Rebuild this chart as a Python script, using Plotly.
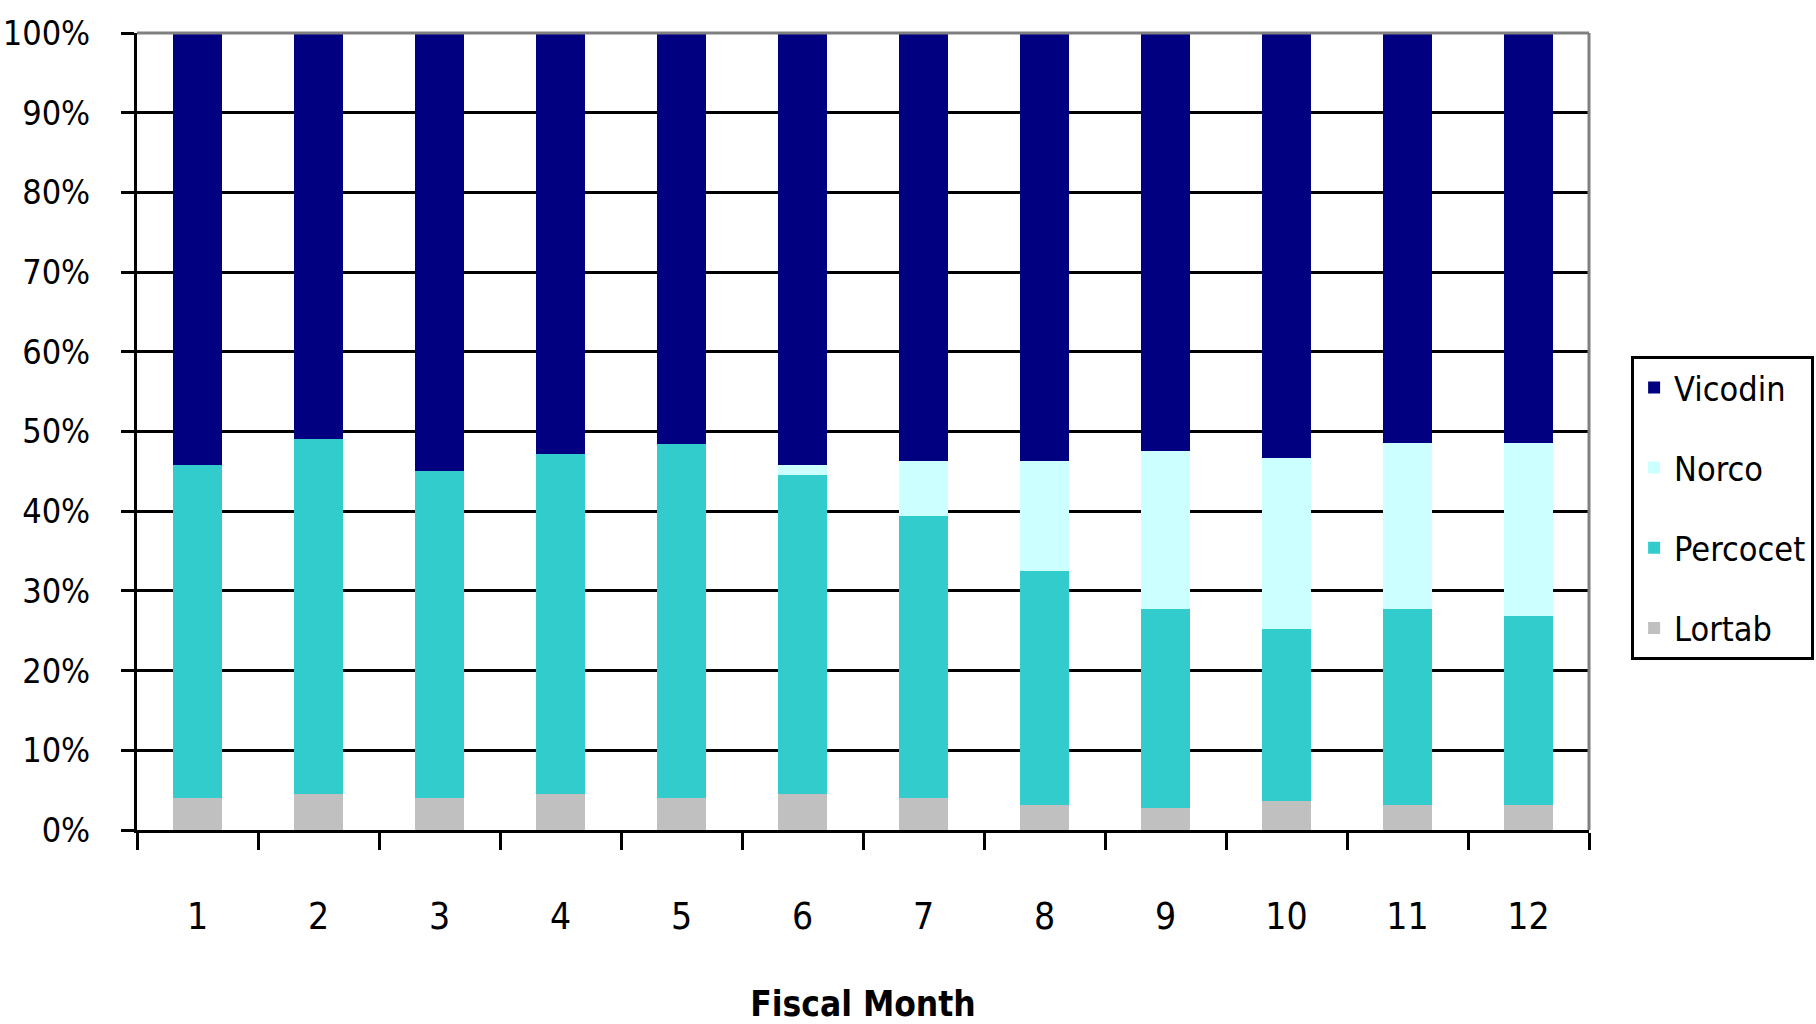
import plotly.graph_objects as go

months = ["1", "2", "3", "4", "5", "6", "7", "8", "9", "10", "11", "12"]
lortab = [4.0, 4.5, 4.0, 4.5, 4.0, 4.5, 4.0, 3.1, 2.8, 3.6, 3.1, 3.1]
percocet = [41.8, 44.5, 41.1, 42.7, 44.4, 40.1, 35.4, 29.4, 24.9, 21.6, 24.6, 23.8]
norco = [0, 0, 0, 0, 0, 1.2, 6.9, 13.8, 19.9, 21.5, 20.8, 21.6]
vicodin = [54.2, 51.0, 54.9, 52.8, 51.6, 54.2, 53.7, 53.7, 52.4, 53.3, 51.5, 51.5]
y_ticks = [0, 10, 20, 30, 40, 50, 60, 70, 80, 90, 100]
y_labels = ["0%", "10%", "20%", "30%", "40%", "50%", "60%", "70%", "80%", "90%", "100%"]

FONT = "Liberation Sans Narrow, Arial Narrow, DejaVu Sans Condensed, Liberation Sans, Arial"

series = [
    ("Lortab", lortab, "#C0C0C0", 4),
    ("Percocet", percocet, "#33CCCC", 3),
    ("Norco", norco, "#CCFFFF", 2),
    ("Vicodin", vicodin, "#000080", 1),
]

fig = go.Figure()
for name, vals, col, rank in series:
    fig.add_trace(go.Bar(x=months, y=vals, name=name, legendgroup=name, legendrank=rank,
                         marker=dict(color=col, line=dict(width=0))))

fig.update_layout(
    barmode="stack",
    bargap=0.59,
    width=1816, height=1024,
    margin=dict(l=137, r=227, t=33, b=194, autoexpand=False),
    paper_bgcolor="white", plot_bgcolor="white",
    font=dict(family=FONT, size=36, color="black"),
    showlegend=True,
    legend=dict(x=1.029, y=0.595, xanchor="left", yanchor="top",
                traceorder="grouped", tracegroupgap=33,
                bordercolor="black", borderwidth=3, bgcolor="white",
                font=dict(family=FONT, size=34, color="black")),
    xaxis=dict(type="category", showgrid=False, showline=True, linecolor="black",
               linewidth=3, ticks="outside", ticklen=17, tickwidth=3, tickcolor="black",
               tickson="boundaries", ticklabelstandoff=52,
               tickfont=dict(size=37),
               title=dict(text="<b>Fiscal Month</b>", standoff=58,
                          font=dict(family=FONT, size=35, color="black"))),
    yaxis=dict(range=[0, 100], tickvals=y_ticks, ticktext=y_labels, showgrid=True,
               gridcolor="black", gridwidth=2.5, zeroline=False, showline=True,
               linecolor="black", linewidth=3, ticks="outside", ticklen=13,
               tickwidth=3, tickcolor="black", ticklabelstandoff=24,
               tickfont=dict(size=34)),
    shapes=[
        dict(type="line", xref="paper", yref="paper", x0=0, x1=1, y0=1, y1=1,
             line=dict(color="#808080", width=3)),
        dict(type="line", xref="paper", yref="paper", x0=1, x1=1, y0=0, y1=1,
             line=dict(color="#808080", width=3)),
    ],
)

fig.write_html("out.html")
